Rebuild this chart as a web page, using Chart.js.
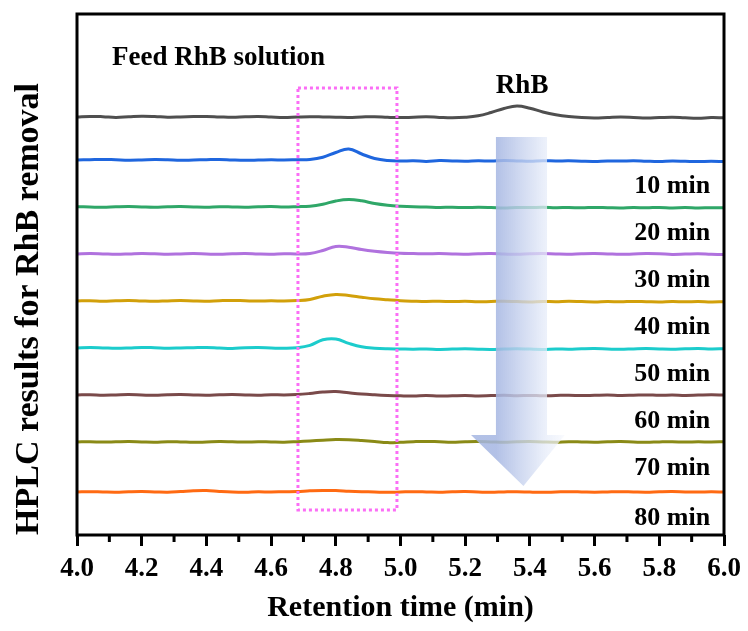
<!DOCTYPE html>
<html>
<head>
<meta charset="utf-8">
<script src="https://cdn.jsdelivr.net/npm/chart.js@4"></script>
<style>
  body { margin: 0; background: #fff; }
</style>
</head>
<body>
<canvas id="hplc_chart" width="748" height="631"></canvas>
<script>
// retention time grid (min)
const retentionTime = [
  4.00, 4.04, 4.08, 4.12, 4.16, 4.20, 4.24, 4.28, 4.32, 4.36,
  4.40, 4.44, 4.48, 4.52, 4.56, 4.60, 4.64, 4.68, 4.72, 4.76,
  4.80, 4.84, 4.88, 4.92, 4.96, 5.00, 5.04, 5.08, 5.12, 5.16,
  5.20, 5.24, 5.28, 5.32, 5.36, 5.40, 5.44, 5.48, 5.52, 5.56,
  5.60, 5.64, 5.68, 5.72, 5.76, 5.80, 5.84, 5.88, 5.92, 5.96,
  6.00
];

const seriesNames = ["Feed RhB solution", "10 min", "20 min", "30 min", "40 min", "50 min", "60 min", "70 min", "80 min"];
const seriesColors = ["#4f4f4f", "#1f66de", "#2fa768", "#b072de", "#d2a00a", "#1ccccc", "#7a4a4a", "#8a8a16", "#ff6a12"];

// vertical offset of each trace (a.u.)
const offsets = [418, 375, 328, 281, 234, 187, 140, 93, 43];

// detector signal (a.u.)
const feed = [
  0, 0.6, 0.3, -0.4, 0.2, 0.8, 0.5, -0.2, 0, 0.4,
  0.6, 0.1, -0.3, 0.2, 0.5, 0, -0.4, 0, 0.3, 0.1,
  -0.2, -0.5, 0, 0.3, -0.3, -0.6, -0.2, 0.2, -0.4, -0.8,
  -0.3, 1.2, 4.5, 8.5, 11, 8.8, 5, 2.2, 0.4, -0.6,
  -1, -0.5, 0, -0.4, -1, -0.6, -0.2, -0.8, -1.2, -0.6,
  -0.8
];
const t10 = [
  0, 0.3, 0.6, 0.2, -0.2, 0, 0.4, 0.2, -0.3, 0,
  0.3, 0.5, 0, -0.3, -0.1, 0.2, 0, 0.3, 0.6, 2.8,
  7.5, 11, 6, 1.5, -0.5, -1, -0.8, -1.4, -0.6, -0.9,
  -1.2, -0.8, -1, -0.6, -0.9, -1.3, -0.7, -1, -0.8, -1.2,
  -1.4, -0.9, -1.1, -0.7, -1.2, -1.5, -1, -1.3, -1.6, -1.2,
  -1.6
];
const t20 = [
  0.3, 0, -0.3, 0.2, 0.5, 0.1, -0.2, 0.2, 0.4, 0,
  -0.2, 0.3, 0.1, -0.2, 0.2, 0.4, 0, 0.3, 0.8, 2.8,
  6, 7.5, 6.2, 3.5, 1.8, 0.8, 0.2, 0, -0.4, -0.2,
  -0.6, -0.3, -0.5, -0.9, -0.4, -0.6, -0.2, -0.7, -0.5, -0.8,
  -0.4, -0.7, -1, -0.5, -0.8, -0.4, -0.9, -0.6, -1, -0.7,
  -0.8
];
const t30 = [
  0, 0.4, 0.1, -0.3, 0, 0.5, 0.2, -0.2, 0.1, 0.4,
  0, -0.3, 0.2, 0.5, 0, -0.2, 0.3, 0.1, 0.6, 3.5,
  7.5, 6.8, 4.5, 2.8, 1.6, 0.8, 0.5, 0.2, 0.4, 0,
  -0.2, 0.3, 0.5, 0, -0.3, 0.2, 0.4, 0, -0.2, 0.3,
  0.5, 0.1, -0.3, 0, 0.4, 0.2, -0.4, -0.1, 0.2, -0.3,
  -0.6
];
const t40 = [
  0, 0.3, -0.2, 0.2, 0.5, 0, -0.3, 0.1, 0.4, 0,
  -0.2, 0.3, 0.6, 0.2, -0.1, 0.2, 0, 0.4, 1.6, 4.8,
  6.6, 5.6, 3.8, 2.2, 1.2, 0.3, -0.2, -0.5, -0.2, -0.6,
  -0.3, -0.8, -0.5, -0.2, -0.6, -0.9, -0.4, -0.7, -0.3, -0.6,
  -0.9, -0.5, -0.8, -0.4, -0.7, -1, -0.6, -0.8, -0.5, -0.9,
  -0.7
];
const t50 = [
  0, 0.4, 0.1, -0.3, 0, 0.6, 0.3, -0.2, 0, 0.3,
  0.5, 0, -0.4, 0.2, 0.4, 0, -0.3, 0.2, 2.6, 8.2,
  9, 4.6, 1.2, -0.2, -0.8, -1, -1.2, -0.9, -1.4, -1.1,
  -0.8, -1.2, -1.5, -1, -0.7, -1.1, -1.4, -0.9, -1.2, -0.8,
  -0.6, -1, -1.3, -0.9, -0.6, -1, -1.2, -0.8, -0.5, -0.9,
  -0.7
];
const t60 = [
  0, 0.3, -0.2, 0.1, 0.4, 0, -0.3, 0.2, 0.4, 0.1,
  -0.2, 0.2, 0.5, 0.1, -0.2, 0.3, 0, 0.4, 1.5, 3,
  3.5, 2.2, 1, 0.2, -0.4, -0.8, -1, -0.6, -1.1, -0.8,
  -0.5, -0.9, -0.6, -0.3, -0.7, -0.4, -0.8, -0.5, -0.2, -0.6,
  -0.3, 0, -0.4, -0.2, 0.1, -0.3, 0, -0.4, -0.1, 0.2,
  0
];
const t70 = [
  0, 0.3, -0.1, 0.2, 0.5, 0.1, -0.2, 0.3, 0.1, -0.3,
  0, 0.4, 0.2, -0.1, 0.3, 0, -0.2, 0.3, 1, 1.8,
  2.4, 2.2, 1.4, 0.4, -0.6, -0.3, 0.3, 0.6, 0.2, -0.2,
  0.3, 0.5, 0.1, -0.3, 0.2, 0.4, 0, -0.2, 0.3, 0.1,
  -0.2, 0.2, 0.4, 0, -0.3, 0.1, 0.3, -0.1, 0.2, 0,
  0.3
];
const t80 = [
  0, 0.3, 0, -0.2, 0.2, 0.4, 0.1, -0.2, 0.4, 1.2,
  1.4, 0.6, 0, -0.2, 0.2, 0, 0.3, 0.5, 1.2, 1.6,
  1.4, 0.8, 0.3, 0, -0.3, 0, 0.3, 0.1, -0.2, 0.2,
  0.4, 0, -0.3, 0.1, 0.3, -0.1, -0.3, 0, 0.3, 0.1,
  -0.2, 0.1, 0.3, 0, -0.2, 0.2, 0.4, 0.1, -0.1, 0.2,
  0
];
const signals = [feed, t10, t20, t30, t40, t50, t60, t70, t80];

const xTicks = [4.0, 4.2, 4.4, 4.6, 4.8, 5.0, 5.2, 5.4, 5.6, 5.8, 6.0];
const xMinorTicks = [4.1, 4.3, 4.5, 4.7, 4.9, 5.1, 5.3, 5.5, 5.7, 5.9];

const FONT = '"Liberation Serif", "Times New Roman", serif';
Chart.defaults.font.family = FONT;
Chart.defaults.color = "#000";

// frame, minor ticks, box, arrow and labels
const decorations = {
  id: "decorations",
  afterDatasetsDraw(chart) {
    const { ctx, chartArea: a, scales: { x, y } } = chart;
    ctx.save();

    // dotted box around the product peak
    const bx1 = x.getPixelForValue(4.683), bx2 = x.getPixelForValue(4.989);
    const by1 = y.getPixelForValue(447), by2 = y.getPixelForValue(25);
    ctx.strokeStyle = "#fb6ef6";
    ctx.lineWidth = 3;
    ctx.setLineDash([3, 3]);
    ctx.strokeRect(bx1, by1, bx2 - bx1, by2 - by1);
    ctx.setLineDash([]);

    // arrow
    const sL = x.getPixelForValue(5.295), sR = x.getPixelForValue(5.453);
    const hL = x.getPixelForValue(5.218), hR = x.getPixelForValue(5.508);
    const tip = x.getPixelForValue(5.38);
    const yTop = y.getPixelForValue(398), yHead = y.getPixelForValue(100), yTip = y.getPixelForValue(49);
    const g = ctx.createLinearGradient(hL, 0, hR, 0);
    g.addColorStop(0, "rgba(165,182,226,0.85)");
    g.addColorStop(0.27, "rgba(165,182,226,0.85)");
    g.addColorStop(0.8, "rgba(230,236,249,0.75)");
    g.addColorStop(1, "rgba(246,248,253,0.7)");
    ctx.fillStyle = g;
    ctx.beginPath();
    ctx.moveTo(sL, yTop);
    ctx.lineTo(sR, yTop);
    ctx.lineTo(sR, yHead);
    ctx.lineTo(hR, yHead);
    ctx.lineTo(tip, yTip);
    ctx.lineTo(hL, yHead);
    ctx.lineTo(sL, yHead);
    ctx.closePath();
    ctx.fill();

    // text labels
    ctx.fillStyle = "#000";
    ctx.font = "bold 27px " + FONT;
    ctx.textBaseline = "middle";
    ctx.textAlign = "left";
    ctx.fillText(seriesNames[0], x.getPixelForValue(4.108), y.getPixelForValue(477));
    ctx.textAlign = "center";
    ctx.fillText("RhB", x.getPixelForValue(5.376), y.getPixelForValue(449));
    ctx.font = "bold 26px " + FONT;
    ctx.textAlign = "right";
    for (let i = 1; i < seriesNames.length; i++) {
      ctx.fillText(seriesNames[i], x.getPixelForValue(5.957), y.getPixelForValue(offsets[i] - 26));
    }

    // frame
    ctx.strokeStyle = "#000";
    ctx.lineWidth = 3;
    ctx.strokeRect(a.left, a.top, a.right - a.left, a.bottom - a.top);

    // minor ticks
    ctx.beginPath();
    xMinorTicks.forEach((v) => {
      const px = x.getPixelForValue(v);
      ctx.moveTo(px, a.bottom);
      ctx.lineTo(px, a.bottom + 7);
    });
    ctx.stroke();
    ctx.restore();
  },
};

const ctx = document.getElementById("hplc_chart").getContext("2d");

new Chart(ctx, {
  type: "line",
  data: {
    datasets: signals.map((s, i) => ({
      label: seriesNames[i],
      data: s.map((v, j) => ({ x: retentionTime[j], y: v + offsets[i] })),
      borderColor: seriesColors[i],
      borderWidth: 3,
      pointRadius: 0,
      tension: 0.4,
      fill: false,
    })),
  },
  options: {
    responsive: false,
    animation: false,
    layout: { padding: { top: 14, right: 24, left: 0, bottom: 0 } },
    plugins: { legend: { display: false }, tooltip: { enabled: false } },
    scales: {
      x: {
        type: "linear",
        min: 4,
        max: 6,
        afterBuildTicks: (scale) => {
          scale.ticks = xTicks.map((v) => ({ value: v }));
        },
        afterFit: (scale) => {
          scale.height = 96;
          scale.paddingLeft = 0;
          scale.paddingRight = 0;
        },
        border: { display: false },
        grid: {
          display: true,
          drawOnChartArea: false,
          drawTicks: true,
          tickLength: 11,
          tickWidth: 3,
          tickColor: "#000",
        },
        ticks: {
          autoSkip: false,
          maxRotation: 0,
          padding: 7,
          color: "#000",
          font: { size: 27, weight: "bold" },
          callback: (v) => Number(v).toFixed(1),
        },
        title: {
          display: true,
          text: "Retention time (min)",
          color: "#000",
          font: { size: 30, weight: "bold" },
          padding: { top: 0, bottom: 5 },
        },
      },
      y: {
        min: 0,
        max: 521,
        afterFit: (scale) => {
          scale.width = 77;
        },
        border: { display: false },
        grid: { display: false },
        ticks: { display: false },
        title: {
          display: true,
          text: "HPLC results for RhB removal",
          align: "start",
          color: "#000",
          font: { size: 34, weight: "bold" },
          padding: { top: 9, bottom: 0 },
        },
      },
    },
  },
  plugins: [decorations],
});
</script>
</body>
</html>
